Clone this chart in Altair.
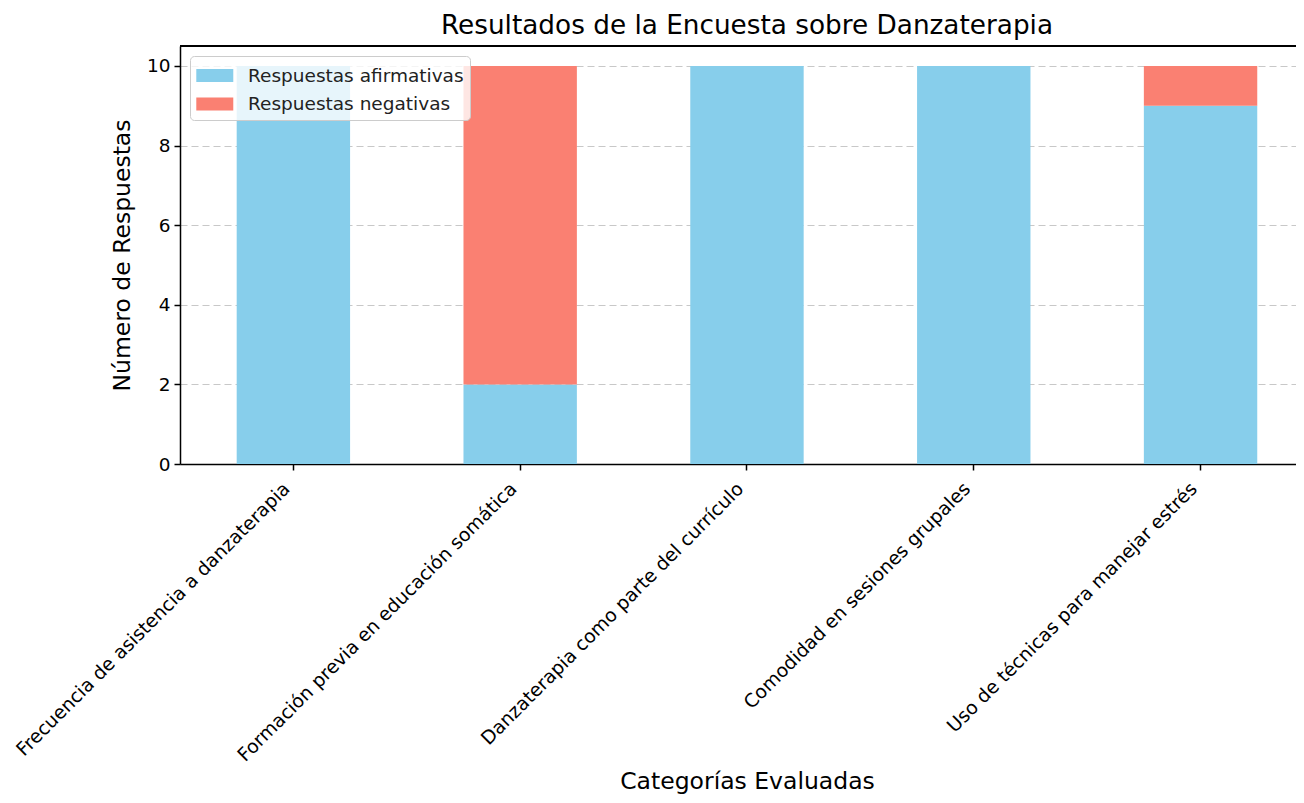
import altair as alt
import pandas as pd

categorias = [
    "Frecuencia de asistencia a danzaterapia",
    "Formación previa en educación somática",
    "Danzaterapia como parte del currículo",
    "Comodidad en sesiones grupales",
    "Uso de técnicas para manejar estrés",
]
afirmativas = [10, 2, 10, 10, 9]
negativas = [0, 8, 0, 0, 1]
series = ["Respuestas afirmativas", "Respuestas negativas"]
colores = ["#87CEEB", "#FA8072"]
y_ticks = [0, 2, 4, 6, 8, 10]

rows = []
for c, a, n in zip(categorias, afirmativas, negativas):
    rows.append({"categoria": c, "serie": series[0], "valor": a, "orden": 0})
    rows.append({"categoria": c, "serie": series[1], "valor": n, "orden": 1})
df = pd.DataFrame(rows)

FONT = "DejaVu Sans"
W = 1116
H = 418

bars = alt.Chart(df).mark_bar().encode(
    x=alt.X(
        "categoria:N",
        sort=categorias,
        scale=alt.Scale(paddingInner=0.5, paddingOuter=0.2104, align=0.594),
        axis=alt.Axis(
            title="Categorías Evaluadas",
            labelAngle=-45,
            labelAlign="right",
            labelBaseline="top",
            labelOffset=-13,
            labelPadding=9,
            labelFontSize=18.8,
            labelColor="black",
            labelLimit=1000,
            tickSize=6,
            tickColor="black",
            tickWidth=1.5,
            domainColor="black",
            domainWidth=1.5,
            grid=False,
            titleFontSize=23.5,
            titleFontWeight="normal",
            titleColor="black",
            titleX=567,
            titleY=317,
            titleBaseline="middle",
        ),
    ),
    y=alt.Y(
        "valor:Q",
        stack="zero",
        scale=alt.Scale(domain=[0, 10.5], nice=False),
        axis=alt.Axis(
            title="Número de Respuestas",
            values=y_ticks,
            labelFontSize=18.5,
            labelColor="black",
            labelPadding=4,
            tickSize=6,
            tickColor="black",
            tickWidth=1.5,
            domainColor="black",
            domainWidth=1.5,
            grid=True,
            gridColor="#b0b0b0",
            gridOpacity=0.7,
            gridDash=[7, 4],
            gridWidth=1.2,
            titleFontSize=23.5,
            titleFontWeight="normal",
            titleColor="black",
            titlePadding=12,
        ),
    ),
    color=alt.Color(
        "serie:N",
        scale=alt.Scale(domain=series, range=colores),
        legend=alt.Legend(
            title=None,
            orient="none",
            legendX=10,
            legendY=10,
            symbolType="M-1,-0.5H1.8V0.5H-1Z",
            symbolSize=698,
            symbolStrokeWidth=0,
            symbolOpacity=1,
            labelFontSize=18.5,
            labelColor="#222222",
            labelLimit=1000,
            labelOffset=25,
            rowPadding=5.5,
            padding=6,
            fillColor="rgba(255,255,255,0.8)",
            strokeColor="#cccccc",
            cornerRadius=4,
        ),
    ),
    order=alt.Order("orden:Q", sort="ascending"),
)

top_spine = alt.Chart(df).mark_rule(color="black", strokeWidth=1.5).encode(
    y=alt.value(0), x=alt.value(0), x2=alt.value(W)
)

chart = (
    alt.layer(bars, top_spine)
    .properties(
        width=W,
        height=H,
        autosize=alt.AutoSizeParams(type="none"),
        padding={"left": 172, "top": 38, "right": 0, "bottom": 331},
        title=alt.Title(
            "Resultados de la Encuesta sobre Danzaterapia",
            fontSize=26.3,
            fontWeight="normal",
            color="black",
            font=FONT,
            offset=6,
            dx=9,
        ),
    )
    .configure(font=FONT)
    .configure_view(stroke=None)
)

chart.save("out.html", embed_options={"renderer": "svg", "actions": False})
